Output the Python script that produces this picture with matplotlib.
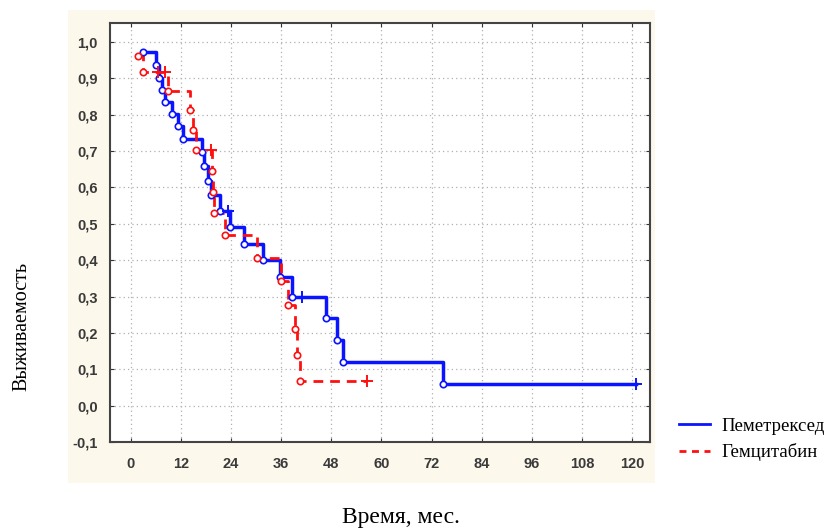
# -*- coding:utf-8 -*-
import numpy as np
import matplotlib
matplotlib.use("Agg")
import matplotlib.pyplot as plt
from matplotlib.lines import Line2D
from matplotlib.patches import Rectangle

#--------------------------------
# Data
#--------------------------------
# Пеметрексед : event times (months) and survival after each event
PEM_TIME = [3.0, 6.0, 6.8, 7.4, 8.2, 9.8, 11.2, 12.5, 17.0, 17.4, 18.4, 19.2,
            21.3, 23.8, 27.2, 31.7, 35.7, 38.5, 46.7, 49.3, 50.9, 74.8]
PEM_SURV = [0.973, 0.937, 0.902, 0.868, 0.836, 0.802, 0.768, 0.733, 0.697, 0.660, 0.617, 0.578,
            0.535, 0.490, 0.444, 0.400, 0.355, 0.300, 0.240, 0.180, 0.120, 0.060]
PEM_CENS_TIME = [23.2, 40.9, 121.0]
PEM_CENS_SURV = [0.535, 0.300, 0.060]

# Гемцитабин
GEM_TIME = [1.6, 2.9, 9.0, 14.2, 14.9, 15.5, 19.5, 19.7, 20.0, 22.5, 30.1,
            35.9, 37.7, 39.3, 39.8, 40.5]
GEM_SURV = [0.962, 0.918, 0.866, 0.814, 0.759, 0.704, 0.644, 0.587, 0.530, 0.470, 0.407,
            0.343, 0.276, 0.210, 0.138, 0.069]
GEM_CENS_TIME = [6.5, 8.2, 19.3, 56.5]
GEM_CENS_SURV = [0.918, 0.918, 0.704, 0.069]

X_TICKS = [0, 12, 24, 36, 48, 60, 72, 84, 96, 108, 120]
Y_TICKS = [-0.1, 0.0, 0.1, 0.2, 0.3, 0.4, 0.5, 0.6, 0.7, 0.8, 0.9, 1.0]
LABELS = ["Пеметрексед", "Гемцитабин"]

BLUE = "#0a14ff"
RED = "#ff1010"


def km_curve(ax, t, s, ct, cs, color, ls, lw):
    # step line runs until the last censored observation
    xs = list(t) + [max(ct)]
    ys = list(s) + [s[-1]]
    line, = ax.step(xs, ys, where="post", color=color, linestyle=ls, linewidth=lw, zorder=3)
    if ls != "-":
        line.set_dashes((3.5, 2.5))
    ax.plot(t, s, "o", ms=4.6, mfc="white", mec=color, mew=1.2, linestyle="none", zorder=4)
    ax.plot(ct, cs, "+", ms=8, mec=color, mew=1.4, linestyle="none", zorder=4)


def main():
    fig = plt.figure(figsize=(8.26, 5.31), dpi=100)
    fig.patch.set_facecolor("white")

    # cream panel behind the plot
    fig.add_artist(Rectangle((68 / 826, 1 - 483 / 531), (655 - 68) / 826, (483 - 10) / 531,
                             transform=fig.transFigure, facecolor="#fdf8ec",
                             edgecolor="none", zorder=-10))

    ax = fig.add_axes([110 / 826, 1 - 442 / 531, 540 / 826, 419 / 531])
    ax.set_facecolor("white")

    km_curve(ax, PEM_TIME, PEM_SURV, PEM_CENS_TIME, PEM_CENS_SURV, BLUE, "-", 2.5)
    km_curve(ax, GEM_TIME, GEM_SURV, GEM_CENS_TIME, GEM_CENS_SURV, RED, "--", 2.0)

    ax.set_xlim(-5, 124.3)
    ax.set_ylim(-0.1, 1.052)
    ax.set_xticks(X_TICKS)
    ax.set_yticks(Y_TICKS)
    ax.set_xticklabels([str(v) for v in X_TICKS])
    ax.set_yticklabels([("%.1f" % v).replace(".", ",") for v in Y_TICKS])
    for lab in ax.get_xticklabels() + ax.get_yticklabels():
        lab.set_fontfamily("Liberation Sans")
        lab.set_fontsize(10.5)
        lab.set_fontweight("bold")
        lab.set_color("#3a3a3a")
    ax.tick_params(direction="in", length=3, top=True, right=True, color="#333333")
    ax.tick_params(axis="x", pad=11)
    ax.tick_params(axis="y", pad=9)
    ax.grid(True, linestyle=(0, (1, 2.5)), color="#b0b0b0", linewidth=0.9)
    for sp in ax.spines.values():
        sp.set_color("#444444")
        sp.set_linewidth(1.5)

    # legend outside on the right
    handles = [Line2D([], [], color=BLUE, lw=2.0),
               Line2D([], [], color=RED, lw=2.0, dashes=(2.5, 2))]
    ax.legend(handles, LABELS, loc="center left", bbox_to_anchor=(679 / 826, 1 - 439.5 / 531),
              bbox_transform=fig.transFigure, frameon=False, handlelength=1.65,
              handletextpad=0.6, labelspacing=0.44, borderpad=0, borderaxespad=0,
              prop={"family": "Liberation Serif", "size": 13.5})

    fig.text(22 / 826, 1 - 326 / 531, "Выживаемость", rotation=90, ha="center", va="center",
             family="Liberation Serif", fontsize=14.5)
    fig.text(401 / 826, 1 - 518 / 531, "Время, мес.", ha="center", va="center",
             family="Liberation Serif", fontsize=17)

    plt.savefig("out.png", dpi=100)


if __name__ == '__main__':
    main()
